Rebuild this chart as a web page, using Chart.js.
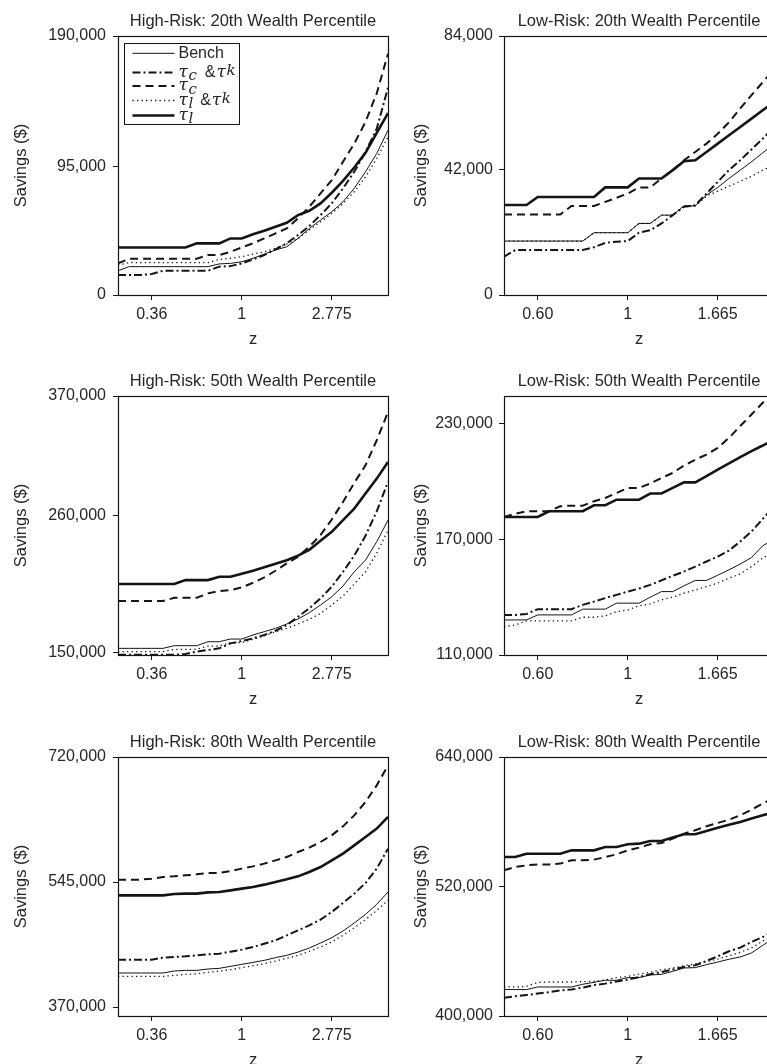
<!DOCTYPE html>
<html><head><meta charset="utf-8">
<script src="https://cdn.jsdelivr.net/npm/chart.js@4.4.0/dist/chart.umd.min.js"></script>
<style>
html,body{margin:0;padding:0;background:#fff;overflow:hidden;width:767px;height:1064px;position:relative;}
.p{position:absolute;}
</style></head><body>
<div class="p" style="left:0;top:0"><canvas id="c0" width="400" height="360"></canvas></div>
<div class="p" style="left:400px;top:0"><canvas id="c1" width="390" height="360"></canvas></div>
<div class="p" style="left:0;top:360px"><canvas id="c2" width="400" height="360"></canvas></div>
<div class="p" style="left:400px;top:360px"><canvas id="c3" width="390" height="360"></canvas></div>
<div class="p" style="left:0;top:721px"><canvas id="c4" width="400" height="360"></canvas></div>
<div class="p" style="left:400px;top:721px"><canvas id="c5" width="390" height="360"></canvas></div>
<script>
// ---- x grids (z) ----
const zHigh = [0.2454,0.2789,0.3168,0.3600,0.4090,0.4648,0.5281,0.6000,0.6817,0.7746,0.8801,1,1.1362,1.2910,1.4669,1.6667,1.8937,2.1517,2.4448,2.7779,3.1563,3.5862,4.0748,4.6298,5.2605];
const zLow  = [0.4954,0.5281,0.5629,0.6000,0.6396,0.6817,0.7267,0.7746,0.8257,0.8801,0.9381,1,1.0659,1.1362,1.2112,1.2910,1.3761,1.4669,1.5636,1.6667,1.7766,1.8937,2.0186,2.1517,2.2937];
const xTicksHigh = [0.36, 1, 2.775];
const xTickLabelsHigh = ['0.36', '1', '2.775'];
const xTicksLow = [0.6, 1, 1.665];
const xTickLabelsLow = ['0.60', '1', '1.665'];

const seriesNames = ['Bench', 'τc &τk', 'τc', 'τl &τk', 'τl'];

// ---- High-Risk 20th ----
const hr20Range = [0, 190000];
const hr20YTicks = [0, 94000, 190000];
const hr20YLabels = ['0', '95,000', '190,000'];
const hr20Bench = [17800,20800,20800,20800,20800,20800,20800,20800,20800,22800,23200,24400,26900,30000,33000,35400,41500,48800,55000,61000,68400,78200,90400,103800,120900];
const hr20TcTk  = [14700,14700,14700,15400,17800,17800,17800,17800,17800,20800,21200,23200,26100,29300,33500,37900,44000,50500,58600,67200,78200,90400,105000,122000,152100];
const hr20Tc    = [23200,26600,26600,26600,26600,26600,26600,26600,29300,29300,31700,34900,37900,41500,45200,48800,56200,64700,74500,84300,97700,111000,127000,148000,177000];
const hr20TlTk  = [22000,23700,23700,23700,23700,23700,23700,23700,23700,26100,26900,28100,30000,31700,34200,37400,41500,47600,53700,59800,67200,75700,86700,100100,116000];
const hr20Tl    = [34900,34900,34900,34900,34900,34900,34900,37900,37900,37900,41500,41500,44500,47100,50100,53000,58600,61800,67200,75000,83700,93500,104300,119000,133500];

// ---- Low-Risk 20th ----
const lr20Range = [0, 84000];
const lr20YTicks = [0, 40800, 84000];
const lr20YLabels = ['0', '42,000', '84,000'];
const lr20Bench = [17500,17500,17500,17500,17500,17500,17500,17500,20200,20200,20200,20200,23200,23200,25900,25900,28900,28900,32400,34900,37800,40500,43200,46100,49000];
const lr20TcTk  = [12400,14600,14600,14600,14600,14600,14600,14600,15500,16900,17300,17500,20200,21000,23200,25900,28600,29100,32900,36700,40500,43700,47200,50700,54500];
const lr20Tc    = [26100,26100,26100,26100,26100,26100,28900,28900,28900,30200,31500,32900,34900,34900,37800,40500,43700,46400,49100,52300,56000,60500,64800,69000,73200];
const lr20TlTk  = [17500,17500,17500,17500,17500,17500,17500,17500,20200,20200,20200,20200,23200,23200,25900,25900,28900,28900,32100,33700,35300,36900,38500,40500,42100];
const lr20Tl    = [29200,29200,29200,31800,31800,31800,31800,31800,31800,34900,34900,34900,37800,37800,37800,40500,43400,43700,46400,49100,51800,54500,57200,59900,62600];

// ---- High-Risk 50th ----
const hr50Range = [147700, 370000];
const hr50YTicks = [150000, 267100, 370000];
const hr50YLabels = ['150,000', '260,000', '370,000'];
const hr50Bench = [153400,153400,153400,153400,153400,155700,155700,155700,159100,159100,161400,161400,164900,167700,170600,174300,178600,184000,190600,197700,206900,219100,229100,245000,263400];
const hr50TcTk  = [147900,147900,147900,147900,147900,147900,148600,150600,152000,153400,157700,159700,162000,164900,168500,173400,180500,187700,196300,206300,219100,233000,250000,271000,296300];
const hr50Tc    = [194000,194000,194000,194000,194000,196800,196800,196800,200600,202600,203400,205700,209700,214300,220000,226300,232000,240600,250600,264000,279100,295400,310500,332000,356300];
const hr50TlTk  = [150600,150600,150600,150600,150600,152600,152600,152600,155400,155400,158300,158300,161200,164000,167700,170600,174300,178300,183400,190600,198300,208600,219100,235000,254800];
const hr50Tl    = [208600,208600,208600,208600,208600,208600,212000,212000,212000,214800,214800,217500,220000,223000,226000,229100,233000,238000,245700,253400,263400,273400,286300,299100,313400];

// ---- Low-Risk 50th ----
const lr50Range = [110000, 244400];
const lr50YTicks = [110000, 170000, 230000];
const lr50YLabels = ['110,000', '170,000', '230,000'];
const lr50Bench = [128200,128200,128200,130800,130800,130800,130800,133800,133800,133800,136900,136900,136900,140000,142900,142900,145900,148700,148700,151400,154200,157200,160600,166700,170000];
const lr50TcTk  = [130800,130800,131300,133800,133800,133800,133800,136000,137700,139500,141200,142900,144500,146400,148700,151100,153300,155900,158500,161100,164200,168900,174100,180600,187000];
const lr50Tc    = [181600,183300,184600,184600,184600,187200,187500,187500,189800,191500,194100,196700,196700,199000,201900,204500,208300,211400,214000,217500,222700,228800,234800,240900,246100];
const lr50TlTk  = [124700,125600,127700,127700,127700,127700,127700,129600,129600,130300,132500,133400,135500,136500,138600,140000,142100,143800,145500,147300,149900,152100,155900,160300,163500];
const lr50Tl    = [181600,181600,181600,181600,184600,184600,184600,184600,187700,187700,190600,190600,190600,193800,193800,196700,199600,199600,202800,206200,209400,212700,215800,218700,221800];

// ---- High-Risk 80th ----
const hr80Range = [357400, 720000];
const hr80YTicks = [370000, 545000, 720000];
const hr80YLabels = ['370,000', '545,000', '720,000'];
const hr80Bench = [417600,417600,417600,417600,417600,420400,421300,421300,423200,424100,426900,429700,432500,435300,439100,442300,446900,452600,459600,467000,476400,487600,499700,513700,531000];
const hr80TcTk  = [436300,436300,436300,436300,439100,440000,440900,442300,443700,444700,447500,450300,454000,458600,463300,470300,477300,484300,492300,503000,515600,528700,543600,563700,591700];
const hr80Tc    = [548300,548300,548300,549700,552000,552900,554300,555700,557600,557600,560400,563700,566900,570700,575300,580000,587000,593100,601000,610300,622900,638300,657000,680300,708300];
const hr80TlTk  = [412900,412900,412900,412900,412900,414300,415700,416600,418500,420400,422200,425000,427800,430600,434300,438100,442300,447900,454000,461000,470300,481000,492300,505300,519300];
const hr80Tl    = [526300,526300,526300,526300,526300,528200,528700,528700,530500,531000,533300,535700,538000,541300,545000,548700,552900,559000,566000,575300,584700,596300,608000,619700,636000];

// ---- Low-Risk 80th ----
const lr80Range = [400000, 640000];
const lr80YTicks = [400000, 520000, 640000];
const lr80YLabels = ['400,000', '520,000', '640,000'];
const lr80Bench = [424500,424500,424500,426900,426900,426900,426900,429400,431200,433100,433100,435600,435600,438000,438600,441400,444500,444800,447600,450000,452600,454700,458400,465500,472000];
const lr80TcTk  = [417000,418300,419500,420800,422000,423800,424500,426300,428700,430000,431900,433800,436100,438600,440800,443000,445400,447000,451000,455300,460000,463400,468600,473200,479000];
const lr80Tc    = [535000,538100,539600,540500,540500,541200,544300,544300,544900,547300,549800,553500,556000,559100,560300,564300,569000,572100,575800,578900,581900,586000,591200,596800,602300];
const lr80TlTk  = [426900,426900,427500,431000,431500,431500,431500,431800,432200,433500,435500,436800,438800,440500,442800,444500,446500,448200,450500,452800,455800,459000,463000,469500,475500];
const lr80Tl    = [547300,547300,550400,550400,550400,550400,553500,553500,553500,556600,556600,559100,559700,562200,562200,565300,568400,568400,571400,574500,577300,579800,582900,586000,589000];

// ---- styles ----
const INK = '#141414';
const TXT = '#262626';
const lineStyles = [
  {borderWidth: 1.0, borderDash: []},            // Bench
  {borderWidth: 2.0, borderDash: [8, 3, 2, 3]},   // tc & tk
  {borderWidth: 2.0, borderDash: [8, 5]},         // tc
  {borderWidth: 1.3, borderDash: [1.3, 3.2]},     // tl & tk
  {borderWidth: 2.6, borderDash: []}              // tl
];

const framePlugin = {
  id: 'frame',
  afterDatasetsDraw(chart) {
    const a = chart.chartArea, ctx = chart.ctx;
    ctx.save();
    ctx.strokeStyle = INK; ctx.lineWidth = 1.2; ctx.setLineDash([]);
    ctx.strokeRect(Math.round(a.left) + 0.5, Math.round(a.top) + 0.5, Math.round(a.right - a.left), Math.round(a.bottom - a.top));
    ctx.restore();
  }
};

const texLegendPlugin = {
  id: 'texLegend',
  afterDraw(chart, args, opts) {
    if (!opts || !opts.show) return;
    const ctx = chart.ctx, a = chart.chartArea;
    const bx = Math.round(a.left) + 6.5, by = Math.round(a.top) + 7.5, bw = 115, bh = 81;
    ctx.save();
    ctx.fillStyle = '#fff'; ctx.fillRect(bx, by, bw, bh);
    ctx.strokeStyle = INK; ctx.lineWidth = 1; ctx.setLineDash([]);
    ctx.strokeRect(bx, by, bw, bh);
    const rowY = [9.8, 29, 42.5, 57, 72];
    const lx0 = bx + 8, lx1 = bx + 50, tx = bx + 54;
    const tau = "italic 17px 'DejaVu Serif'";
    const it = "italic 15px 'DejaVu Serif'";
    const rm = "16px 'Liberation Sans'";
    // pieces: text, font, gap before, y offset from row centre
    const rows = [
      [['Bench', rm, 0, 0]],
      [['τ', tau, 0, 0], ['c', it, 0.5, 4], ['&', rm, 8, 0], ['τ', tau, 1, 0], ['k', it, 0.5, -1]],
      [['τ', tau, 0, 0], ['c', it, 0.5, 4]],
      [['τ', tau, 0, 0], ['l', it, 0.5, 4], ['&', rm, 7, 0], ['τ', tau, 1, 0], ['k', it, 0.5, -1]],
      [['τ', tau, 0, 0], ['l', it, 0.5, 4]]
    ];
    chart.data.datasets.forEach((ds, i) => {
      const y = by + rowY[i];
      ctx.strokeStyle = ds.borderColor; ctx.lineWidth = ds.borderWidth;
      ctx.setLineDash(ds.borderDash || []);
      ctx.beginPath(); ctx.moveTo(lx0, y); ctx.lineTo(lx1, y); ctx.stroke();
      ctx.setLineDash([]);
      ctx.fillStyle = TXT; ctx.textBaseline = 'middle'; ctx.textAlign = 'left';
      let x = tx;
      rows[i].forEach(pc => {
        ctx.font = pc[1];
        x += pc[2];
        ctx.fillText(pc[0], x, y + pc[3]);
        x += ctx.measureText(pc[0]).width;
      });
    });
    ctx.restore();
  }
};

const panels = [
  {id: 'c0', title: 'High-Risk: 20th Wealth Percentile', z: zHigh, xt: xTicksHigh, xl: xTickLabelsHigh, yr: hr20Range, yt: hr20YTicks, yl: hr20YLabels, s: [hr20Bench, hr20TcTk, hr20Tc, hr20TlTk, hr20Tl], col: 0, legend: true},
  {id: 'c1', title: 'Low-Risk: 20th Wealth Percentile', z: zLow, xt: xTicksLow, xl: xTickLabelsLow, yr: lr20Range, yt: lr20YTicks, yl: lr20YLabels, s: [lr20Bench, lr20TcTk, lr20Tc, lr20TlTk, lr20Tl], col: 1},
  {id: 'c2', title: 'High-Risk: 50th Wealth Percentile', z: zHigh, xt: xTicksHigh, xl: xTickLabelsHigh, yr: hr50Range, yt: hr50YTicks, yl: hr50YLabels, s: [hr50Bench, hr50TcTk, hr50Tc, hr50TlTk, hr50Tl], col: 0},
  {id: 'c3', title: 'Low-Risk: 50th Wealth Percentile', z: zLow, xt: xTicksLow, xl: xTickLabelsLow, yr: lr50Range, yt: lr50YTicks, yl: lr50YLabels, s: [lr50Bench, lr50TcTk, lr50Tc, lr50TlTk, lr50Tl], col: 1},
  {id: 'c4', title: 'High-Risk: 80th Wealth Percentile', z: zHigh, xt: xTicksHigh, xl: xTickLabelsHigh, yr: hr80Range, yt: hr80YTicks, yl: hr80YLabels, s: [hr80Bench, hr80TcTk, hr80Tc, hr80TlTk, hr80Tl], col: 0},
  {id: 'c5', title: 'Low-Risk: 80th Wealth Percentile', z: zLow, xt: xTicksLow, xl: xTickLabelsLow, yr: lr80Range, yt: lr80YTicks, yl: lr80YLabels, s: [lr80Bench, lr80TcTk, lr80Tc, lr80TlTk, lr80Tl], col: 1}
];

panels.forEach(p => {
  const yAxisWidth = p.col === 0 ? 118 : 104;
  const padRight = p.col === 0 ? 12 : 16;
  new Chart(document.getElementById(p.id), {
    type: 'line',
    data: {
      datasets: p.s.map((vals, i) => ({
        label: seriesNames[i],
        data: vals.map((v, k) => ({x: p.z[k], y: v})),
        borderColor: INK,
        borderWidth: lineStyles[i].borderWidth,
        borderDash: lineStyles[i].borderDash,
        borderCapStyle: 'butt',
        borderJoinStyle: 'miter',
        pointRadius: 0,
        tension: 0,
        fill: false
      }))
    },
    options: {
      responsive: false,
      animation: false,
      devicePixelRatio: 1,
      layout: {padding: {left: 0, right: padRight, top: 0, bottom: 0}},
      plugins: {
        legend: {display: false},
        tooltip: {enabled: false},
        title: {
          display: true, text: p.title, color: TXT, fullSize: false,
          font: {family: "'Liberation Sans'", size: 16.5, weight: 'normal', lineHeight: 1.2},
          padding: {top: 12, bottom: 4.2}
        },
        texLegend: {show: !!p.legend}
      },
      scales: {
        x: {
          type: 'logarithmic',
          min: p.z[0], max: p.z[p.z.length - 1],
          afterBuildTicks: (sc) => { sc.ticks = p.xt.map(v => ({value: v})); },
          afterFit: (sc) => { sc.height = 65; },
          ticks: {
            autoSkip: false, maxRotation: 0, color: TXT, padding: 5,
            font: {family: "'Liberation Sans'", size: 16},
            callback: (v, i) => p.xl[i]
          },
          grid: {display: true, drawOnChartArea: false, drawTicks: true, tickLength: 5, color: INK, lineWidth: 1},
          border: {display: false},
          title: {display: true, text: 'z', color: TXT, font: {family: "'Liberation Sans'", size: 16.5, lineHeight: 1.2}, padding: {top: 0, bottom: 10.5}}
        },
        y: {
          type: 'linear',
          min: p.yr[0], max: p.yr[1],
          afterBuildTicks: (sc) => { sc.ticks = p.yt.map(v => ({value: v})); },
          afterFit: (sc) => { sc.width = yAxisWidth; },
          ticks: {
            autoSkip: false, color: TXT, padding: p.col === 0 ? 7 : 6,
            font: {family: "'Liberation Sans'", size: 16},
            callback: (v, i) => p.yl[i]
          },
          grid: {display: true, drawOnChartArea: false, drawTicks: true, tickLength: 5, color: INK, lineWidth: 1},
          border: {display: false},
          title: {display: true, text: 'Savings ($)', color: TXT, font: {family: "'Liberation Sans'", size: 16.5, lineHeight: 1.2}, padding: {top: 11.5, bottom: 0}}
        }
      }
    },
    plugins: [framePlugin, texLegendPlugin]
  });
});
</script>
</body></html>
